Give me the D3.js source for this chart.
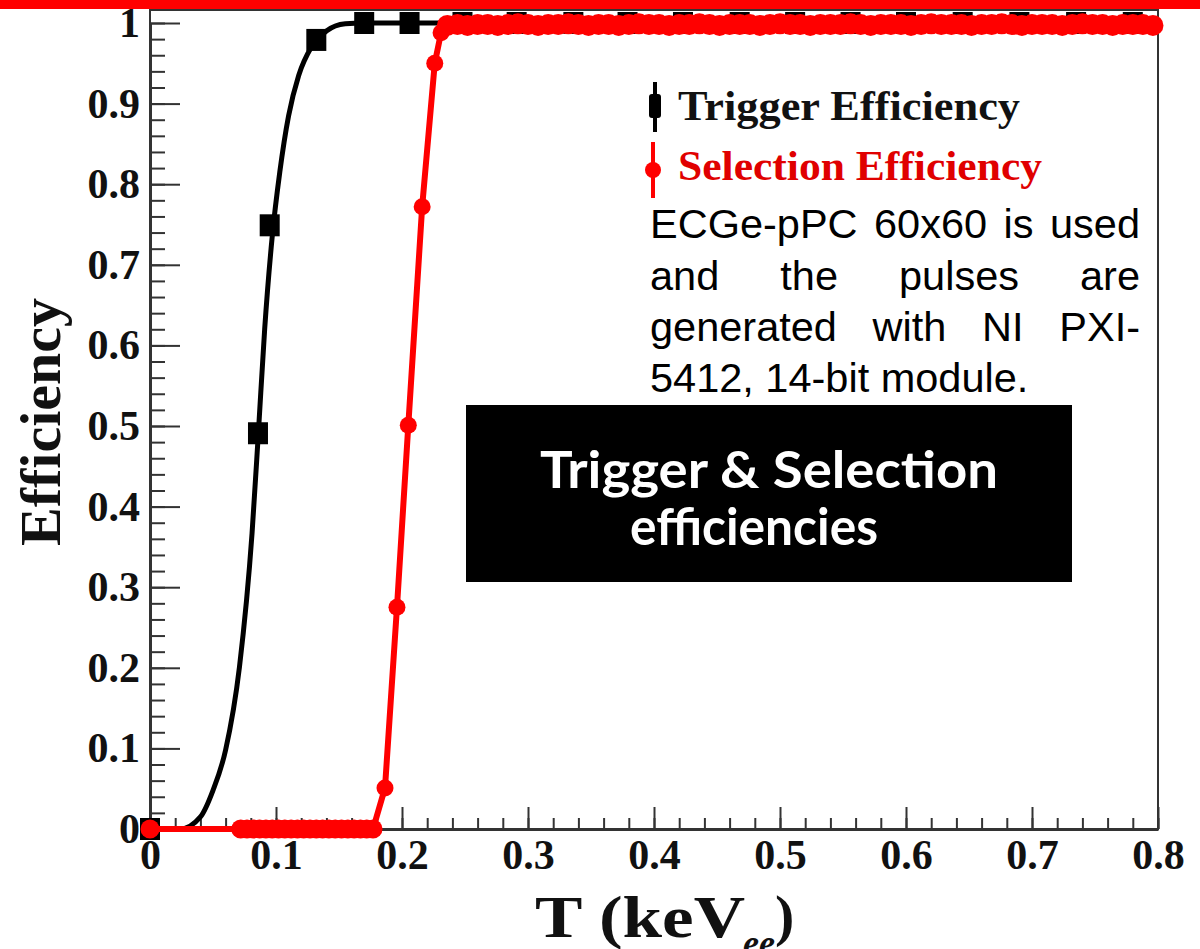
<!DOCTYPE html>
<html><head><meta charset="utf-8">
<script src="https://cdn.jsdelivr.net/npm/d3@7"></script>
<style>html,body{margin:0;padding:0;background:#fff;overflow:hidden}</style>
</head><body><svg id="c" width="1200" height="949"></svg>
<script>
// ---------- data ----------
const xTicks = [0, 0.1, 0.2, 0.3, 0.4, 0.5, 0.6, 0.7, 0.8];
const xTickLabels = ["0", "0.1", "0.2", "0.3", "0.4", "0.5", "0.6", "0.7", "0.8"];
const yTicks = [0, 0.1, 0.2, 0.3, 0.4, 0.5, 0.6, 0.7, 0.8, 0.9, 1];
const yTickLabels = ["0", "0.1", "0.2", "0.3", "0.4", "0.5", "0.6", "0.7", "0.8", "0.9", "1"];

// Trigger efficiency: measured points (black squares)
const triggerX = [0, 0.0857, 0.095, 0.132, 0.170, 0.206, 0.248, 0.291, 0.336, 0.379, 0.423, 0.468, 0.512, 0.556, 0.600, 0.645, 0.690, 0.735, 0.780];
const triggerY = [0, 0.491, 0.749, 0.979, 1.0, 1.0, 1.0, 1.0, 1.0, 1.0, 1.0, 1.0, 1.0, 1.0, 1.0, 1.0, 1.0, 1.0, 1.0];
// Trigger efficiency: fitted curve
const triggerFitX = [0, 0.024, 0.040, 0.050, 0.060, 0.071, 0.081, 0.086, 0.091, 0.097, 0.103, 0.110, 0.118, 0.128, 0.140, 0.155, 0.170, 0.40, 0.60, 0.80];
const triggerFitY = [0, 0.0, 0.015, 0.048, 0.098, 0.201, 0.367, 0.491, 0.620, 0.735, 0.815, 0.885, 0.935, 0.970, 0.990, 0.999, 1.0, 1.0, 1.0, 1.0];

// Selection efficiency (red circles)
const selectionX = [0, 0.072, 0.077, 0.082, 0.087, 0.092, 0.097, 0.102, 0.107, 0.112, 0.117, 0.122, 0.127, 0.132, 0.137, 0.142, 0.147, 0.152, 0.157, 0.162, 0.167, 0.172, 0.177,
  0.1865, 0.196, 0.205, 0.216, 0.226, 0.231,
  0.236, 0.244, 0.252, 0.260, 0.268, 0.276, 0.284, 0.292, 0.300, 0.308, 0.316, 0.324, 0.332, 0.340, 0.348, 0.356, 0.364, 0.372, 0.380, 0.388, 0.396, 0.404, 0.412, 0.420, 0.428, 0.436, 0.444, 0.452, 0.460, 0.468, 0.476, 0.484, 0.492, 0.500, 0.508, 0.516, 0.524, 0.532, 0.540, 0.548, 0.556, 0.564, 0.572, 0.580, 0.588, 0.596, 0.604, 0.612, 0.620, 0.628, 0.636, 0.644, 0.652, 0.660, 0.668, 0.676, 0.684, 0.692, 0.700, 0.708, 0.716, 0.724, 0.732, 0.740, 0.748, 0.756, 0.764, 0.772, 0.780, 0.788, 0.796];
const selectionY = [0, 0, 0, 0, 0, 0, 0, 0, 0, 0, 0, 0, 0, 0, 0, 0, 0, 0, 0, 0, 0, 0, 0,
  0.051, 0.275, 0.501, 0.772, 0.950, 0.988,
  0.997, 0.998, 0.997, 0.998, 0.998, 0.997, 0.998, 0.999, 0.998, 0.997, 0.998, 0.998, 0.999, 0.998, 0.997, 0.998, 0.998, 0.997, 0.998, 0.999, 0.998, 0.998, 0.997, 0.998, 0.998, 0.999, 0.998, 0.997, 0.998, 0.998, 0.998, 0.997, 0.998, 0.999, 0.998, 0.998, 0.997, 0.998, 0.998, 0.998, 0.999, 0.998, 0.997, 0.998, 0.998, 0.998, 0.997, 0.998, 0.999, 0.998, 0.998, 0.998, 0.997, 0.998, 0.998, 0.999, 0.998, 0.997, 0.998, 0.998, 0.998, 0.997, 0.998, 0.999, 0.998, 0.998, 0.997, 0.998, 0.998, 0.998, 0.997];

const legendLabels = ["Trigger Efficiency", "Selection Efficiency"];
const noteLines = ["ECGe-pPC 60x60 is used", "and the pulses are", "generated with NI PXI-", "5412, 14-bit module."];
const boxLines = ["Trigger & Selection", "efficiencies"];

// ---------- drawing ----------
const svg = d3.select("#c");
const RED = "#ff0000";
const serif = "'Liberation Serif', 'Times New Roman', serif";

const x = d3.scaleLinear().domain([0, 0.8]).range([150, 1158]);
const y = d3.scaleLinear().domain([0, 1]).range([829, 23]);

// frame
svg.append("rect").attr("x", 150).attr("y", 10).attr("width", 1008).attr("height", 819)
  .attr("fill", "none").attr("stroke", "#333").attr("stroke-width", 2);

// minor ticks
const xMinor = d3.range(0, 0.8001, 0.02);
const yMinor = d3.range(0, 1.0001, 0.02);
svg.append("g").attr("transform", "translate(0,829)")
  .call(d3.axisBottom(x).tickValues(xMinor).tickFormat("").tickSizeInner(-11).tickSizeOuter(0))
  .call(g => { g.select(".domain").remove(); g.selectAll("line").attr("stroke", "#333").attr("stroke-width", 2); });
svg.append("g").attr("transform", "translate(150,0)")
  .call(d3.axisLeft(y).tickValues(yMinor).tickFormat("").tickSizeInner(-15).tickSizeOuter(0))
  .call(g => { g.select(".domain").remove(); g.selectAll("line").attr("stroke", "#333").attr("stroke-width", 2); });

// major axes
const xAxis = svg.append("g").attr("transform", "translate(0,829)")
  .call(d3.axisBottom(x).tickValues(xTicks).tickFormat((d, i) => xTickLabels[i]).tickSizeInner(-22).tickSizeOuter(0).tickPadding(10));
xAxis.select(".domain").attr("stroke", "#333").attr("stroke-width", 3);
xAxis.selectAll("line").attr("stroke", "#333").attr("stroke-width", 2);
xAxis.selectAll("text").attr("font-family", serif).attr("font-weight", "bold").attr("font-size", 42).attr("fill", "#111");

const yAxis = svg.append("g").attr("transform", "translate(150,0)")
  .call(d3.axisLeft(y).tickValues(yTicks).tickFormat((d, i) => yTickLabels[i]).tickSizeInner(-30).tickSizeOuter(0).tickPadding(10));
yAxis.select(".domain").attr("stroke", "#333").attr("stroke-width", 3);
yAxis.selectAll("line").attr("stroke", "#333").attr("stroke-width", 2);
yAxis.selectAll("text").attr("font-family", serif).attr("font-weight", "bold").attr("font-size", 42).attr("fill", "#111");

// trigger curve + points
const trigFit = triggerFitX.map((d, i) => [d, triggerFitY[i]]);
svg.append("path").datum(trigFit)
  .attr("d", d3.line().x(d => x(d[0])).y(d => y(d[1])).curve(d3.curveMonotoneX))
  .attr("fill", "none").attr("stroke", "#000").attr("stroke-width", 5);
const trig = triggerX.map((d, i) => [d, triggerY[i]]);
svg.append("g").selectAll("rect").data(trig).join("rect")
  .attr("x", d => x(d[0]) - 10).attr("y", d => y(d[1]) - 11)
  .attr("width", 20).attr("height", 22).attr("fill", "#000");

// selection curve + points
const sel = selectionX.map((d, i) => [d, selectionY[i]]);
const selLine = d3.line().x(d => x(d[0])).y(d => y(d[1]));
svg.append("path").datum(sel)
  .attr("d", selLine)
  .attr("fill", "none").attr("stroke", RED).attr("stroke-width", 6);
svg.append("path").datum(sel.filter(d => d[1] > 0.99))
  .attr("d", selLine)
  .attr("fill", "none").attr("stroke", RED).attr("stroke-width", 16);
svg.append("g").selectAll("circle").data(sel).join("circle")
  .attr("cx", d => x(d[0])).attr("cy", d => y(d[1])).attr("r", d => d[1] > 0.99 ? 10.5 : (d[1] === 0 ? 9.5 : 8.5))
  .attr("fill", RED);

// top red band
svg.append("rect").attr("x", 0).attr("y", 0).attr("width", 1200).attr("height", 9).attr("fill", RED);

// axis titles
svg.append("text").attr("transform", "translate(60,422) rotate(-90)")
  .attr("text-anchor", "middle").attr("font-family", serif).attr("font-weight", "bold")
  .attr("font-size", 58).attr("fill", "#111").text("Efficiency");
svg.append("text").attr("x", 535).attr("y", 937)
  .attr("font-family", serif).attr("font-weight", "bold").attr("font-size", 60).attr("fill", "#111")
  .attr("textLength", 210).attr("lengthAdjust", "spacingAndGlyphs").text("T (keV");
svg.append("text").attr("x", 743).attr("y", 955)
  .attr("font-family", serif).attr("font-weight", "bold").attr("font-style", "italic").attr("font-size", 36).attr("fill", "#111")
  .text("ee");
svg.append("text").attr("x", 775).attr("y", 935)
  .attr("font-family", serif).attr("font-weight", "bold").attr("font-size", 58).attr("fill", "#111")
  .text(")");

// legend
const leg = svg.append("g");
leg.append("line").attr("x1", 655).attr("x2", 655).attr("y1", 82).attr("y2", 132).attr("stroke", "#000").attr("stroke-width", 4);
leg.append("rect").attr("x", 649).attr("y", 94).attr("width", 12).attr("height", 24).attr("rx", 3).attr("fill", "#000");
leg.append("line").attr("x1", 653).attr("x2", 653).attr("y1", 142).attr("y2", 198).attr("stroke", RED).attr("stroke-width", 4);
leg.append("circle").attr("cx", 653).attr("cy", 170).attr("r", 8).attr("fill", RED);
leg.append("text").attr("x", 678).attr("y", 120).attr("font-family", serif).attr("font-weight", "bold")
  .attr("font-size", 42).attr("fill", "#111").attr("textLength", 342).attr("lengthAdjust", "spacingAndGlyphs").text(legendLabels[0]);
leg.append("text").attr("x", 678).attr("y", 180).attr("font-family", serif).attr("font-weight", "bold")
  .attr("font-size", 42).attr("fill", "#e00000").attr("textLength", 364).attr("lengthAdjust", "spacingAndGlyphs").text(legendLabels[1]);

// note text (justified)
const noteLeft = 650, noteRight = 1140, noteBase = [238, 290, 341, 392];
noteLines.forEach((line, li) => {
  const words = line.split(" ");
  const g = svg.append("g");
  const ts = words.map(w => g.append("text").attr("font-family", "'Liberation Sans', Arial, sans-serif")
    .attr("font-size", 41.5).attr("fill", "#000").attr("y", noteBase[li]).text(w));
  const widths = ts.map(t => t.node().getComputedTextLength());
  const total = d3.sum(widths);
  const justify = li < noteLines.length - 1 && words.length > 1;
  const gap = justify ? (noteRight - noteLeft - total) / (words.length - 1) : 11.5;
  let cx = noteLeft;
  ts.forEach((t, i) => { t.attr("x", cx); cx += widths[i] + gap; });
});

// black box
svg.append("rect").attr("x", 466).attr("y", 405).attr("width", 606).attr("height", 177).attr("fill", "#000");
svg.append("text").attr("x", 769).attr("y", 488).attr("text-anchor", "middle")
  .attr("font-family", "Lato, 'Open Sans', sans-serif").attr("font-weight", "bold").attr("font-size", 52)
  .attr("fill", "#fff").attr("textLength", 458).attr("lengthAdjust", "spacingAndGlyphs").text(boxLines[0]);
svg.append("text").attr("x", 754).attr("y", 545).attr("text-anchor", "middle")
  .attr("font-family", "Lato, 'Open Sans', sans-serif").attr("font-weight", "bold").attr("font-size", 52)
  .attr("fill", "#fff").attr("textLength", 248).attr("lengthAdjust", "spacingAndGlyphs").text(boxLines[1]);
</script>
</body></html>
